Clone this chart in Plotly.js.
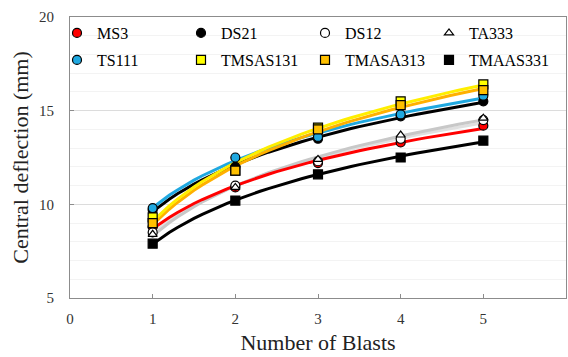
<!DOCTYPE html>
<html><head><meta charset="utf-8">
<script src="https://cdn.plot.ly/plotly-3.0.1.min.js"></script>
<style>body{margin:0;padding:0;background:#fff}#chart{width:568px;height:357px}</style>
</head><body><div id="chart"></div>
<script>
const blasts = [1, 2, 3, 4, 5];
const names = ["MS3", "DS21", "DS12", "TA333", "TS111", "TMSAS131", "TMASA313", "TMAAS331"];
const MS3 = [8.8, 10.9, 12.2, 13.3, 14.2];
const DS21 = [9.7, 12.0, 13.5, 14.7, 15.5];
const DS12 = [8.5, 11.0, 12.3, 13.5, 14.5];
const TA333 = [8.4, 10.9, 12.4, 13.7, 14.6];
const TS111 = [9.8, 12.5, 13.6, 14.8, 15.8];
const TMSAS131 = [9.3, 11.8, 14.1, 15.5, 16.4];
const TMASA313 = [9.0, 11.8, 14.0, 15.3, 16.1];
const TMAAS331 = [7.9, 10.2, 11.6, 12.5, 13.4];
const xTicks = [0, 1, 2, 3, 4, 5, 6];
const yTicks = [5, 10, 15, 20];

const values = [MS3, DS21, DS12, TA333, TS111, TMSAS131, TMASA313, TMAAS331];
const symbols = ["circle", "circle", "circle", "triangle-up", "circle", "square", "square", "square"];
const fills = ["#ff0000", "#000000", "#ffffff", "#ffffff", "#1fa8e0", "#ffff00", "#ffc000", "#000000"];
const lineColors = ["#ff0000", "#000000", "#e0e0e0", "#c8c8c8", "#1fa8e0", "#ffee00", "#ffb000", "#000000"];

// logarithmic trend line fitted to each series (least squares)
function logFit(xs, ys) {
  const lx = xs.map(Math.log);
  const n = xs.length;
  const mx = lx.reduce((a, b) => a + b, 0) / n;
  const my = ys.reduce((a, b) => a + b, 0) / n;
  let sxy = 0, sxx = 0;
  for (let i = 0; i < n; i++) { sxy += (lx[i] - mx) * (ys[i] - my); sxx += (lx[i] - mx) ** 2; }
  const a = sxy / sxx, b = my - a * mx;
  const fx = [], fy = [];
  for (let i = 0; i <= 40; i++) { const x = 1 + 4 * i / 40; fx.push(x); fy.push(a * Math.log(x) + b); }
  return {fx, fy};
}

const traces = [];
const drawOrder = [2, 3, 0, 7, 1, 4, 6, 5];
drawOrder.forEach(i => {
  const f = logFit(blasts, values[i]);
  traces.push({x: f.fx, y: f.fy, mode: "lines", showlegend: false, hoverinfo: "skip",
    line: {color: lineColors[i], width: 3}});
});
names.forEach((nm, i) => {
  traces.push({x: blasts, y: values[i], mode: "markers", name: nm,
    legend: i < 4 ? "legend" : "legend2",
    marker: {symbol: symbols[i], size: i === 3 ? 8 : 9, color: fills[i],
      line: {color: "#000000", width: 1.2}}});
});

const serif = "'Times New Roman', 'Liberation Serif', serif";
const legendBase = {orientation: "h", xref: "paper", yref: "paper", x: 0, xanchor: "left",
  yanchor: "middle", indentation: -13, bgcolor: "rgba(0,0,0,0)", font: {family: serif, size: 16, color: "#000"},
  entrywidth: 92, entrywidthmode: "pixels", itemwidth: 30};
const layout = {
  width: 568, height: 357,
  margin: {l: 70, r: 2, t: 17, b: 59},
  paper_bgcolor: "#ffffff", plot_bgcolor: "#ffffff",
  font: {family: serif, color: "#000000"},
  showlegend: true,
  legend: Object.assign({}, legendBase, {y: 1 - (33 - 17) / 281}),
  legend2: Object.assign({}, legendBase, {y: 1 - (60 - 17) / 281}),
  xaxis: {range: [0, 6], tickvals: xTicks, ticktext: xTicks.map(String),
    showgrid: false, zeroline: false, showline: true, mirror: true,
    linecolor: "#8c8c8c", linewidth: 1, ticks: "inside", ticklen: 4, tickcolor: "#8c8c8c",
    ticklabelstandoff: 7,
    tickfont: {family: serif, size: 15, color: "#333"},
    title: {text: "Number of Blasts", font: {family: serif, size: 22, color: "#222"}, standoff: 8}},
  yaxis: {range: [5, 20], tickvals: yTicks, ticktext: yTicks.map(String),
    showgrid: true, gridcolor: "#dcdcdc", gridwidth: 1,
    minor: {dtick: 1, showgrid: true, gridcolor: "#f3f3f3", ticks: ""},
    zeroline: false, showline: true, mirror: true,
    linecolor: "#8c8c8c", linewidth: 1, ticks: "inside", ticklen: 4, tickcolor: "#8c8c8c",
    ticklabelstandoff: 12,
    tickfont: {family: serif, size: 15, color: "#333"},
    title: {text: "Central deflection (mm)", font: {family: serif, size: 22, color: "#222"}, standoff: 4}}
};
Plotly.newPlot("chart", traces, layout, {displayModeBar: false, staticPlot: true});
</script></body></html>
